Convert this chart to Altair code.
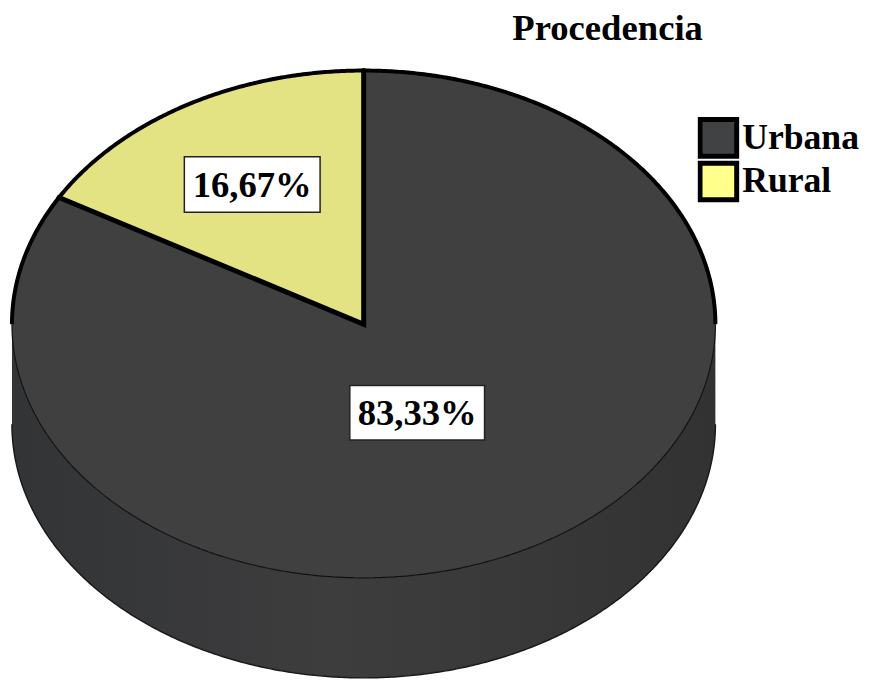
import numpy as np
import pandas as pd
import altair as alt

categories = ["Urbana", "Rural"]
shares = [83.33, 16.67]
share_labels = ["83,33%", "16,67%"]
legend_colors = ["#404244", "#ffff8c"]
surface_colors = ["#404040", "#e3e384"]
side_stops = ["#333436", "#3d3d3e", "#39393a", "#323233"]
chart_title = ["Procedencia"]

# pie geometry, in page pixels
CX, CY, RX, RY, DEPTH = 367.0, 324.0, 355.0, 256.0, 101.0
FONT = "Liberation Serif"

t = np.linspace(0, np.pi, 401)
xs = CX - RX * np.cos(t)
half = RY * np.sin(t)
rim = pd.DataFrame({"x": xs, "upper": CY - half, "lower": CY + half, "base": CY + half + DEPTH})

# Rural wedge starts at 12 o'clock and turns counter-clockwise by its share
ang = shares[1] / 100 * 2 * np.pi
tipx, tipy = CX, CY
endx, endy = CX - RX * np.sin(ang), CY - RY * np.cos(ang)
w = np.linspace(0, ang, 120)[::-1]
wx = CX - RX * np.sin(w)
wedge = pd.DataFrame({
    "x": wx,
    "upper": CY - RY * np.cos(w),
    "lower": tipy + (wx - tipx) * (endy - tipy) / (endx - tipx),
})
spokes = pd.DataFrame({"x": [endx, tipx, tipx], "y": [endy, tipy, CY - RY], "o": [0, 1, 2]})

X = alt.Scale(domain=[8, 872], range=[0, 864], nice=False, zero=False)
Y = alt.Scale(domain=[8, 680], range=[0, 672], nice=False, zero=False)
x = alt.X("x:Q", scale=X, axis=None)
y = alt.Y("y:Q", scale=Y, axis=None)

side = alt.Chart(rim).mark_area(
    color=alt.Gradient(
        gradient="linear", x1=0, x2=1, y1=0, y2=0,
        stops=[
            alt.GradientStop(offset=0, color=side_stops[0]),
            alt.GradientStop(offset=0.45, color=side_stops[1]),
            alt.GradientStop(offset=0.7, color=side_stops[2]),
            alt.GradientStop(offset=1, color=side_stops[3]),
        ],
    ),
).encode(x=x, y=alt.Y("lower:Q", scale=Y, axis=None), y2="base:Q")

side_edge = alt.Chart(rim).mark_line(color="#1a1a1a", strokeWidth=1.5).encode(
    x=x, y=alt.Y("base:Q", scale=Y, axis=None))

top = alt.Chart(rim).mark_area(color=surface_colors[0]).encode(
    x=x, y=alt.Y("upper:Q", scale=Y, axis=None), y2="lower:Q")

rural = alt.Chart(wedge).mark_area(color=surface_colors[1]).encode(
    x=x, y=alt.Y("upper:Q", scale=Y, axis=None), y2="lower:Q")

rim_thin = alt.Chart(rim).mark_line(color="#111111", strokeWidth=1.2).encode(
    x=x, y=alt.Y("lower:Q", scale=Y, axis=None))
rim_thick = alt.Chart(rim).mark_line(color="#000000", strokeWidth=4).encode(
    x=x, y=alt.Y("upper:Q", scale=Y, axis=None))

spoke_lines = alt.Chart(spokes).mark_line(color="#000000", strokeWidth=5, strokeCap="round").encode(
    x=x, y=y, order="o:Q")

labels = pd.DataFrame({
    "x": [421.0, 254.5], "y": [414.0, 184.0],
    "x0": [353.0, 186.0], "x1": [489.0, 323.0],
    "y0": [386.0, 155.0], "y1": [441.0, 211.0],
    "t": share_labels,
})
boxes = alt.Chart(labels).mark_rect(fill="#ffffff", stroke="#222222", strokeWidth=1.5).encode(
    x=alt.X("x0:Q", scale=X, axis=None), x2="x1:Q",
    y=alt.Y("y0:Q", scale=Y, axis=None), y2="y1:Q")
texts = alt.Chart(labels).mark_text(
    font=FONT, fontSize=37, fontWeight="bold", color="#000000",
    align="center", baseline="middle", dy=1,
).encode(x=x, y=y, text="t:N")

title_df = pd.DataFrame({"x": [517.0], "y": [25.0], "t": chart_title})
title_mark = alt.Chart(title_df).mark_text(
    font=FONT, fontSize=37, fontWeight="bold", color="#000000",
    align="left", baseline="middle", dy=1,
).encode(x=x, y=y, text="t:N")

legend_src = pd.DataFrame({"x": [CX, CX], "y": [CY, CY], "c": categories})
legend_layer = alt.Chart(legend_src).mark_square(size=0).encode(
    x=x, y=y,
    color=alt.Color(
        "c:N",
        scale=alt.Scale(domain=categories, range=legend_colors),
        legend=alt.Legend(
            title=None, orient="none", legendX=696, legendY=106,
            symbolType="square", symbolSize=1369, symbolStrokeColor="#000000",
            symbolStrokeWidth=5, symbolOpacity=1,
            labelFont=FONT, labelFontSize=36, labelFontWeight="bold",
            labelColor="#000000", labelOffset=3,
            labelLimit=200, rowPadding=0, clipHeight=44, padding=0,
        ),
    ),
)

chart = alt.layer(
    side, side_edge, top, rural, rim_thin, rim_thick, spoke_lines, boxes, texts, title_mark, legend_layer
).properties(
    width=864, height=672, padding=0, background="#ffffff",
    autosize=alt.AutoSizeParams(type="none"),
).configure_view(strokeWidth=0)

chart.save("out.html", embed_options={"renderer": "svg", "actions": False})
